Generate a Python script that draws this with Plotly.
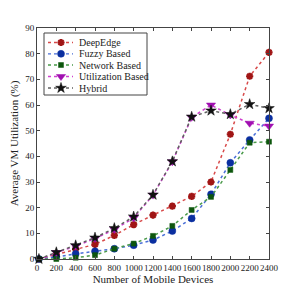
import plotly.graph_objects as go

x_devices = [20, 200, 400, 600, 800, 1000, 1200, 1400, 1600, 1800, 2000, 2200, 2400]
deepedge = [0, 1.8, 3.9, 5.7, 9.2, 13.4, 17.1, 20.6, 24.4, 30.0, 48.6, 71.2, 80.5]
fuzzy = [0, 0.8, 2.0, 3.0, 4.0, 5.4, 7.4, 10.9, 15.8, 25.2, 37.5, 46.4, 54.8]
network = [0, 0, 0.5, 1.5, 4.0, 6.0, 9.0, 12.9, 19.1, 24.2, 34.7, 45.3, 45.7]
utilization = [-0.5, 2.5, 5.0, 8.0, 11.5, 16.0, 24.9, 37.9, 55.2, 60.0, 56.1, 52.9, 51.8]
hybrid = [0, 2.6, 5.3, 8.3, 12.0, 16.5, 25.0, 38.0, 55.4, 57.8, 56.4, 60.3, 58.7]

series = [
    ("DeepEdge", deepedge, "#d84a4a", "#a01515", "asterisk-open", 6),
    ("Fuzzy Based", fuzzy, "#4a6fd8", "#0a2fa0", "circle", 7),
    ("Network Based", network, "#4a9a4a", "#0d560d", "square", 5),
    ("Utilization Based", utilization, "#d040d0", "#a010b0", "triangle-down", 8),
    ("Hybrid", hybrid, "#606060", "#111111", "star", 8),
]

serif = "Liberation Serif, serif"
fig = go.Figure()

# legend layout (overlay axis in pixel units of the plot area)
leg_rows = [42.5, 53.8, 65, 76.5, 88]
leg_line_x = [48, 73]
leg_mark_x = 61
leg_text_x = 77
leg_box = (44, 33, 147, 95)

for i, (name, vals, lc, mc, sym, sz) in enumerate(series):
    marker = dict(symbol=sym, size=sz, color=mc)
    if sym == "asterisk-open":
        marker["line"] = dict(color=mc, width=2.2)
    else:
        marker["line"] = dict(color=mc, width=0.5)
    fig.add_trace(go.Scatter(
        x=x_devices, y=vals, name=name, mode="lines+markers",
        line=dict(color=lc, dash="dot", width=1.5),
        marker=marker, cliponaxis=False, showlegend=False,
    ))
    ry = leg_rows[i]
    fig.add_trace(go.Scatter(
        x=leg_line_x, y=[ry, ry], mode="lines", xaxis="x2", yaxis="y2",
        line=dict(color=lc, dash="dot", width=1.3), showlegend=False, hoverinfo="skip",
    ))
    fig.add_trace(go.Scatter(
        x=[leg_mark_x], y=[ry], mode="markers", xaxis="x2", yaxis="y2",
        marker=marker, showlegend=False, hoverinfo="skip",
    ))
    fig.add_annotation(x=leg_text_x, y=ry, xref="x2", yref="y2", text=name,
                       showarrow=False, xanchor="left", yanchor="middle",
                       font=dict(family=serif, size=10, color="#222"))

fig.add_shape(type="rect", xref="x2", yref="y2",
              x0=leg_box[0], y0=leg_box[1], x1=leg_box[2], y1=leg_box[3],
              line=dict(color="#444", width=1), fillcolor="white", layer="below")

fig.update_layout(
    width=290, height=290,
    margin=dict(l=29, r=29, t=20, b=39, autoexpand=False),
    paper_bgcolor="white", plot_bgcolor="white",
    font=dict(family=serif, size=10, color="#222"),
    showlegend=False,
    xaxis2=dict(overlaying="x", range=[37, 269], visible=False, fixedrange=True),
    yaxis2=dict(overlaying="y", range=[259, 28], visible=False, fixedrange=True),
    xaxis=dict(range=[0, 2400], tickvals=list(range(0, 2401, 200)),
               tickangle=0, automargin=False,
               ticks="inside", ticklen=3, showline=True, linecolor="#444",
               mirror="ticks", showgrid=False, zeroline=False,
               title=dict(text="Number of Mobile Devices",
                          font=dict(family=serif, size=11), standoff=3),
               tickfont=dict(family=serif, size=9)),
    yaxis=dict(range=[0, 90], dtick=10, automargin=False,
               ticks="inside", ticklen=3, showline=True, linecolor="#444",
               mirror="ticks", showgrid=False, zeroline=False,
               title=dict(text="Average VM Utilization (%)",
                          font=dict(family=serif, size=11), standoff=6),
               tickfont=dict(family=serif, size=9)),
)
fig.write_html("out.html")
